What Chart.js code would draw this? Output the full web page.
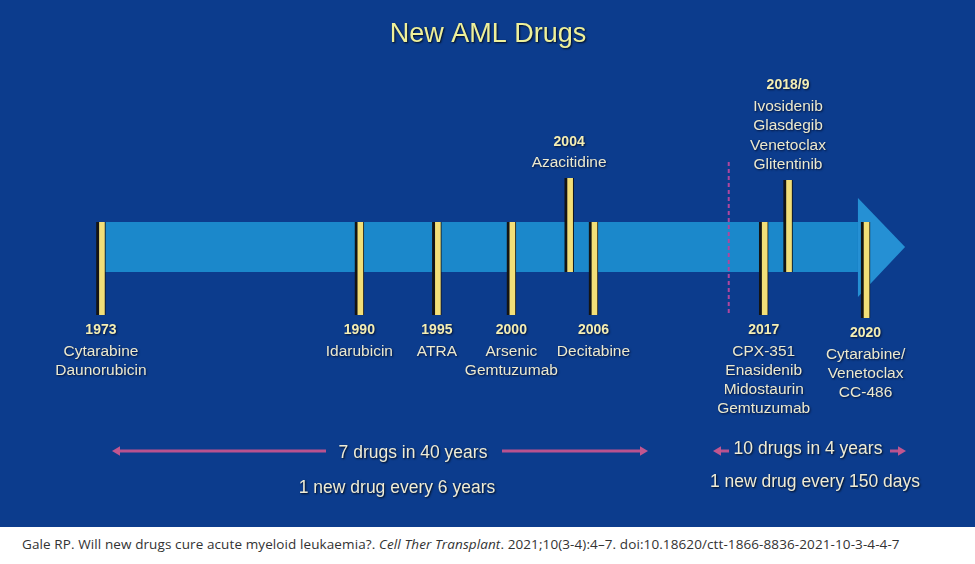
<!DOCTYPE html>
<html>
<head>
<meta charset="utf-8">
<script src="https://cdn.jsdelivr.net/npm/chart.js@4.4.1/dist/chart.umd.min.js"></script>
<style>
  body { margin: 0; background: #fff; width: 975px; height: 564px; overflow: hidden; }
  #panel { width: 975px; height: 527px; background: #0c3c8d; }
  #cite { position: absolute; left: 22px; top: 535px; font-family: "Open Sans", sans-serif; font-size: 13.5px;
          color: #333; white-space: nowrap; letter-spacing: 0.1px; }
</style>
</head>
<body>
<div id="panel"><canvas id="timeline" width="975" height="527"></canvas></div>
<div id="cite">Gale RP. Will new drugs cure acute myeloid leukaemia?. <i>Cell Ther Transplant</i>. 2021;10(3-4):4–7. doi:10.18620/ctt-1866-8836-2021-10-3-4-4-7</div>

<script>
// milestones on the timeline
var years = ['1973', '1990', '1995', '2000', '2004', '2006', '2017', '2018/9', '2020'];
// where each marker sits along the arrow (years; the art is not quite to scale)
var timelinePos = [1973, 1990, 1995.1, 2000, 2003.8, 2005.4, 2016.6, 2018.2, 2023.3];
// marker extent, in band units (band = -2.5 .. 2.5)
var barFrom = [-6.8, -6.8, -6.8, -6.8, -2.5, -6.8, -6.8, -2.5, -7.1];
var barTo   = [ 2.5,  2.5,  2.5,  2.5,  6.9,  2.5,  2.5,  6.7,  2.5];
var drugs = [
  ['Cytarabine', 'Daunorubicin'],
  ['Idarubicin'],
  ['ATRA'],
  ['Arsenic', 'Gemtuzumab'],
  ['Azacitidine'],
  ['Decitabine'],
  ['CPX-351', 'Enasidenib', 'Midostaurin', 'Gemtuzumab'],
  ['Ivosidenib', 'Glasdegib', 'Venetoclax', 'Glitentinib'],
  ['Cytarabine/', 'Venetoclax', 'CC-486']
];

var FONT = '"Liberation Sans", Arial, sans-serif';

function arrowHead(ctx, x, y, dir, size) {
  ctx.beginPath();
  ctx.moveTo(x, y);
  ctx.lineTo(x - dir * size, y - size * 0.6);
  ctx.lineTo(x - dir * size, y + size * 0.6);
  ctx.closePath();
  ctx.fill();
}

var timelineArt = {
  id: 'timelineArt',
  beforeDatasetsDraw: function(chart) {
    var ctx = chart.ctx, x = chart.scales.x, y = chart.scales.y;
    ctx.save();
    // the big arrow
    var x0 = x.getPixelForValue(1973.2), xh = x.getPixelForValue(2022.8), xt = x.getPixelForValue(2025.9);
    ctx.fillStyle = '#1b88cb';
    ctx.fillRect(x0, y.getPixelForValue(2.5), xh - x0, y.getPixelForValue(-2.5) - y.getPixelForValue(2.5));
    ctx.fillStyle = '#2590d4';
    ctx.beginPath();
    ctx.moveTo(xh, y.getPixelForValue(4.9));
    ctx.lineTo(xt, y.getPixelForValue(0));
    ctx.lineTo(xh, y.getPixelForValue(-5));
    ctx.closePath();
    ctx.fill();
    // dashed divider
    var xd = x.getPixelForValue(2014.3);
    ctx.strokeStyle = '#b0469e';
    ctx.lineWidth = 2;
    ctx.setLineDash([4, 3]);
    ctx.beginPath();
    ctx.moveTo(xd, y.getPixelForValue(8.5));
    ctx.lineTo(xd, y.getPixelForValue(-6.6));
    ctx.stroke();
    ctx.restore();
  },
  afterDatasetsDraw: function(chart) {
    var ctx = chart.ctx, x = chart.scales.x, y = chart.scales.y;
    ctx.save();
    ctx.textAlign = 'center';
    ctx.textBaseline = 'middle';
    ctx.shadowColor = 'rgba(0,0,20,0.7)';
    ctx.shadowBlur = 2;
    ctx.shadowOffsetX = 1;
    ctx.shadowOffsetY = 1;
    for (var i = 0; i < years.length; i++) {
      var px = x.getPixelForValue(timelinePos[i]);
      var lines = drugs[i];
      var above = barFrom[i] > -5;
      var ty;
      if (above) {
        ty = y.getPixelForValue(barTo[i]) - 15;
        ctx.font = '15.5px ' + FONT;
        ctx.fillStyle = '#ece9cf';
        for (var j = lines.length - 1; j >= 0; j--) {
          ctx.fillText(lines[j], px, ty);
          if (j > 0) ty -= 19.5;
        }
        ctx.font = 'bold 14px ' + FONT;
        ctx.fillStyle = '#f4eeb4';
        ctx.fillText(years[i], px, ty - 21);
      } else {
        ty = y.getPixelForValue(barFrom[i]) + 15;
        ctx.font = 'bold 14px ' + FONT;
        ctx.fillStyle = '#f4eeb4';
        ctx.fillText(years[i], px, ty);
        ty += 22;
        ctx.font = '15.5px ' + FONT;
        ctx.fillStyle = '#ece9cf';
        for (var k = 0; k < lines.length; k++) {
          ctx.fillText(lines[k], px, ty);
          ty += 18.8;
        }
      }
    }
    // title
    ctx.font = '27px ' + FONT;
    ctx.fillStyle = '#eef09a';
    ctx.shadowColor = 'rgba(0,0,0,0.8)';
    ctx.fillText('New AML Drugs', 488, 35);

    // bottom notes
    ctx.font = '17.5px ' + FONT;
    ctx.fillStyle = '#efecd6';
    ctx.fillText('7 drugs in 40 years', 413, 453);
    ctx.fillText('1 new drug every 6 years', 397, 488);
    ctx.fillText('10 drugs in 4 years', 808, 449);
    ctx.fillText('1 new drug every 150 days', 815, 482);

    ctx.shadowColor = 'transparent';
    ctx.strokeStyle = '#b9528f';
    ctx.fillStyle = '#c2568f';
    ctx.lineWidth = 3;
    var segs = [[118, 326, -1], [502, 642, 1], [719, 729, -1], [890, 900, 1]];
    segs.forEach(function(s) {
      ctx.beginPath();
      ctx.moveTo(s[0], 451);
      ctx.lineTo(s[1], 451);
      ctx.stroke();
      if (s[2] < 0) arrowHead(ctx, s[0] - 6, 451, -1, 8);
      else arrowHead(ctx, s[1] + 6, 451, 1, 8);
    });
    ctx.restore();
  }
};

var chart = new Chart(document.getElementById('timeline').getContext('2d'), {
  type: 'bar',
  data: {
    datasets: [{
      label: 'New AML drugs',
      data: timelinePos.map(function(p, i) { return { x: p, y: [barFrom[i], barTo[i]] }; }),
      backgroundColor: '#f2df78',
      borderColor: '#141414',
      borderWidth: { left: 3, right: 1, top: 0, bottom: 0 },
      borderSkipped: false,
      barThickness: 9
    }]
  },
  options: {
    responsive: false,
    animation: false,
    layout: { padding: 0 },
    plugins: { legend: { display: false }, tooltip: { enabled: false }, title: { display: false } },
    scales: {
      x: { type: 'linear', min: 1966.36, max: 2030.5, offset: false, display: false },
      y: { min: -28, max: 24.7, display: false }
    }
  },
  plugins: [timelineArt]
});
</script>
</body>
</html>
